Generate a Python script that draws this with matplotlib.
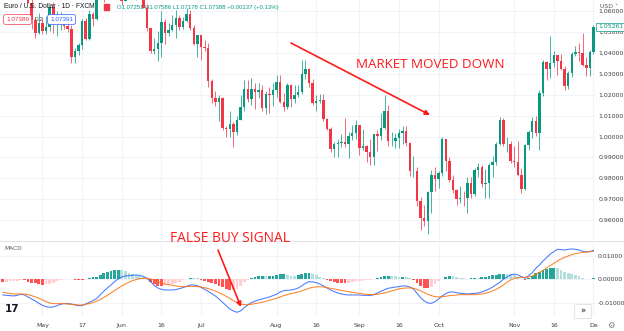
import numpy as np
import matplotlib
matplotlib.use("Agg")
import matplotlib.pyplot as plt
from matplotlib.patches import Rectangle, FancyBboxPatch

# EUR/USD diario (FXCM), del 15 abr al 1 dic 2022. La barra 0 es el 2 de mayo.
first_bar = -11

opens = [
    1.0826, 1.0808, 1.0780, 1.0787, 1.0852, 1.0835, 1.0796, 1.0715, 1.0639, 1.0557,
    1.0497, 1.0545, 1.0504, 1.0522, 1.0620, 1.0542, 1.0550, 1.0561, 1.0530, 1.0513,
    1.0380, 1.0411, 1.0436, 1.0553, 1.0465, 1.0585, 1.0562, 1.0690, 1.0733, 1.0677,
    1.0725, 1.0733, 1.0780, 1.0734, 1.0647, 1.0750, 1.0719, 1.0700, 1.0706, 1.0716,
    1.0615, 1.0518, 1.0408, 1.0417, 1.0446, 1.0546, 1.0495, 1.0511, 1.0534, 1.0567,
    1.0522, 1.0554, 1.0584, 1.0518, 1.0442, 1.0484, 1.0426, 1.0425, 1.0265, 1.0182,
    1.0163, 1.0185, 1.0040, 1.0036, 1.0061, 1.0020, 1.0080, 1.0143, 1.0229, 1.0180,
    1.0229, 1.0212, 1.0222, 1.0134, 1.0203, 1.0197, 1.0224, 1.0262, 1.0164, 1.0140,
    1.0247, 1.0181, 1.0198, 1.0212, 1.0298, 1.0321, 1.0257, 1.0160, 1.0169, 1.0177,
    1.0085, 1.0037, 0.9942, 0.9966, 0.9969, 0.9973, 0.9964, 1.0003, 1.0017, 1.0054,
    0.9943, 0.9953, 0.9924, 0.9901, 1.0010, 1.0001, 1.0043, 1.0122, 0.9977, 0.9980,
    0.9995, 1.0016, 1.0027, 0.9969, 0.9836, 0.9837, 0.9690, 0.9608, 0.9594, 0.9736,
    0.9815, 0.9799, 0.9826, 0.9986, 0.9883, 0.9794, 0.9743, 0.9702, 0.9706, 0.9705,
    0.9779, 0.9723, 0.9838, 0.9853, 0.9774, 0.9779, 0.9862, 0.9878, 0.9966, 1.0079,
    0.9963, 0.9966, 0.9882, 0.9876, 0.9818, 0.9749, 0.9960, 1.0020, 1.0073, 1.0015,
    1.0210, 1.0355, 1.0325, 1.0353, 1.0391, 1.0363, 1.0324, 1.0243, 1.0305, 1.0395,
    1.0405, 1.0398, 1.0344, 1.0330, 1.0405,
]
highs = [
    1.0845, 1.0815, 1.0817, 1.0866, 1.0936, 1.0849, 1.0806, 1.0737, 1.0658, 1.0573,
    1.0593, 1.0566, 1.0578, 1.0624, 1.0642, 1.0599, 1.0594, 1.0580, 1.0578, 1.0534,
    1.0425, 1.0445, 1.0564, 1.0566, 1.0604, 1.0597, 1.0698, 1.0748, 1.0737, 1.0735,
    1.0765, 1.0786, 1.0788, 1.0764, 1.0752, 1.0764, 1.0752, 1.0722, 1.0748, 1.0774,
    1.0633, 1.0520, 1.0469, 1.0505, 1.0601, 1.0560, 1.0545, 1.0583, 1.0606, 1.0581,
    1.0570, 1.0615, 1.0606, 1.0534, 1.0488, 1.0487, 1.0463, 1.0448, 1.0276, 1.0216,
    1.0200, 1.0188, 1.0049, 1.0122, 1.0068, 1.0097, 1.0200, 1.0269, 1.0272, 1.0279,
    1.0257, 1.0258, 1.0245, 1.0216, 1.0235, 1.0254, 1.0294, 1.0293, 1.0209, 1.0254,
    1.0253, 1.0248, 1.0248, 1.0368, 1.0368, 1.0329, 1.0274, 1.0200, 1.0203, 1.0202,
    1.0089, 1.0047, 0.9972, 0.9990, 1.0014, 1.0090, 1.0022, 1.0055, 1.0079, 1.0056,
    1.0034, 0.9960, 0.9989, 1.0012, 1.0030, 1.0113, 1.0198, 1.0153, 1.0020, 1.0017,
    1.0036, 1.0050, 1.0051, 0.9976, 0.9908, 0.9852, 0.9709, 0.9670, 0.9740, 0.9838,
    0.9854, 0.9836, 0.9999, 0.9990, 0.9902, 0.9814, 0.9751, 0.9762, 0.9737, 0.9807,
    0.9808, 0.9848, 0.9873, 0.9863, 0.9846, 0.9872, 0.9906, 0.9976, 1.0093, 1.0089,
    0.9999, 0.9977, 0.9954, 0.9977, 0.9847, 0.9964, 1.0033, 1.0094, 1.0096, 1.0222,
    1.0365, 1.0363, 1.0480, 1.0408, 1.0392, 1.0397, 1.0335, 1.0315, 1.0402, 1.0432,
    1.0449, 1.0497, 1.0382, 1.0414, 1.0534,
]
lows = [
    1.0798, 1.0760, 1.0757, 1.0785, 1.0825, 1.0771, 1.0697, 1.0637, 1.0516, 1.0470,
    1.0491, 1.0491, 1.0492, 1.0505, 1.0493, 1.0483, 1.0509, 1.0514, 1.0500, 1.0350,
    1.0354, 1.0389, 1.0420, 1.0460, 1.0460, 1.0531, 1.0558, 1.0660, 1.0642, 1.0660,
    1.0700, 1.0730, 1.0681, 1.0627, 1.0646, 1.0703, 1.0683, 1.0653, 1.0675, 1.0613,
    1.0506, 1.0398, 1.0397, 1.0359, 1.0382, 1.0444, 1.0482, 1.0506, 1.0469, 1.0510,
    1.0512, 1.0548, 1.0508, 1.0437, 1.0382, 1.0366, 1.0410, 1.0235, 1.0161, 1.0144,
    1.0072, 1.0031, 0.9998, 0.9999, 0.9952, 1.0007, 1.0078, 1.0123, 1.0165, 1.0153,
    1.0130, 1.0182, 1.0120, 1.0109, 1.0113, 1.0146, 1.0189, 1.0160, 1.0123, 1.0130,
    1.0141, 1.0160, 1.0188, 1.0202, 1.0275, 1.0236, 1.0151, 1.0123, 1.0160, 1.0075,
    1.0033, 0.9926, 0.9900, 0.9903, 0.9948, 0.9948, 0.9899, 0.9981, 0.9990, 0.9910,
    0.9934, 0.9877, 0.9864, 0.9865, 0.9930, 0.9985, 1.0037, 0.9956, 0.9955, 0.9945,
    0.9945, 0.9966, 0.9954, 0.9812, 0.9807, 0.9667, 0.9553, 0.9571, 0.9535, 0.9635,
    0.9737, 0.9752, 0.9810, 0.9835, 0.9782, 0.9729, 0.9670, 0.9683, 0.9668, 0.9632,
    0.9706, 0.9717, 0.9807, 0.9759, 0.9705, 0.9704, 0.9808, 0.9863, 0.9960, 0.9953,
    0.9928, 0.9872, 0.9852, 0.9812, 0.9730, 0.9746, 0.9936, 0.9993, 1.0003, 0.9935,
    1.0196, 1.0271, 1.0279, 1.0333, 1.0296, 1.0316, 1.0223, 1.0226, 1.0287, 1.0385,
    1.0363, 1.0338, 1.0290, 1.0290, 1.0395,
]
closes = [
    1.0808, 1.0780, 1.0787, 1.0852, 1.0835, 1.0796, 1.0715, 1.0639, 1.0557, 1.0497,
    1.0545, 1.0504, 1.0522, 1.0620, 1.0542, 1.0550, 1.0561, 1.0530, 1.0513, 1.0380,
    1.0411, 1.0436, 1.0553, 1.0465, 1.0585, 1.0562, 1.0690, 1.0733, 1.0677, 1.0725,
    1.0733, 1.0780, 1.0734, 1.0647, 1.0750, 1.0719, 1.0700, 1.0706, 1.0716, 1.0615,
    1.0518, 1.0408, 1.0417, 1.0446, 1.0546, 1.0495, 1.0511, 1.0534, 1.0567, 1.0522,
    1.0554, 1.0584, 1.0518, 1.0442, 1.0484, 1.0426, 1.0425, 1.0265, 1.0182, 1.0163,
    1.0185, 1.0040, 1.0036, 1.0061, 1.0020, 1.0080, 1.0143, 1.0229, 1.0180, 1.0229,
    1.0212, 1.0222, 1.0134, 1.0203, 1.0197, 1.0224, 1.0262, 1.0164, 1.0140, 1.0247,
    1.0181, 1.0198, 1.0212, 1.0298, 1.0321, 1.0257, 1.0160, 1.0169, 1.0177, 1.0085,
    1.0037, 0.9942, 0.9966, 0.9969, 0.9973, 0.9964, 1.0003, 1.0017, 1.0054, 0.9943,
    0.9953, 0.9924, 0.9901, 1.0010, 1.0001, 1.0043, 1.0122, 0.9977, 0.9980, 0.9995,
    1.0016, 1.0027, 0.9969, 0.9836, 0.9837, 0.9690, 0.9608, 0.9594, 0.9736, 0.9815,
    0.9799, 0.9826, 0.9986, 0.9883, 0.9794, 0.9743, 0.9702, 0.9706, 0.9705, 0.9779,
    0.9723, 0.9838, 0.9853, 0.9774, 0.9779, 0.9862, 0.9878, 0.9966, 1.0079, 0.9963,
    0.9966, 0.9882, 0.9876, 0.9818, 0.9749, 0.9960, 1.0020, 1.0073, 1.0015, 1.0210,
    1.0355, 1.0325, 1.0353, 1.0391, 1.0363, 1.0324, 1.0243, 1.0305, 1.0395, 1.0405,
    1.0398, 1.0344, 1.0330, 1.0405, 1.0526,
]

# MACD (12, 26, 9), en unidades de 0.0001
macd_line = [
    -66.4, -67.8, -69.2, -70.6, -67.8, -63.5, -66.4, -74.8, -83.3, -91.8,
    -101.7, -110.1, -115.8, -118.6, -117.2, -111.5, -105.9, -103.1, -103.1, -104.5,
    -108.7, -111.5, -111.5, -104.5, -97.4, -90.4, -81.9, -66.4, -50.8, -36.7,
    -24.0, -9.9, 1.4, 9.9, 14.1, 15.5, 16.9, 18.4, 16.9, 12.7,
    4.2, -9.9, -25.4, -36.7, -42.4, -45.2, -45.2, -45.2, -43.8, -39.5,
    -35.3, -29.7, -24.0, -24.0, -26.8, -33.9, -42.4, -50.8, -60.7, -70.6,
    -83.3, -97.4, -111.5, -125.7, -134.1, -139.8, -134.1, -120.0, -108.7, -98.8,
    -93.2, -87.5, -83.3, -79.1, -74.8, -69.2, -63.5, -53.7, -48.0, -46.6,
    -45.2, -42.4, -36.7, -28.2, -16.9, -9.9, -11.3, -14.1, -19.8, -28.2,
    -36.7, -45.2, -52.2, -57.9, -62.1, -65.0, -66.4, -66.4, -66.4, -66.4,
    -67.8, -67.8, -69.2, -65.0, -57.9, -50.8, -43.8, -38.1, -35.3, -32.5,
    -31.1, -28.2, -28.2, -32.5, -40.9, -59.3, -77.7, -91.8, -100.3, -101.7,
    -94.6, -83.3, -70.6, -60.7, -53.7, -53.7, -56.5, -59.3, -60.7, -62.1,
    -60.7, -59.3, -57.9, -53.7, -48.0, -40.9, -32.5, -22.6, -12.7, 0.0,
    9.9, 18.4, 22.6, 18.4, 11.3, 4.2, 15.5, 28.2, 46.6, 60.7,
    77.7, 91.8, 107.3, 117.2, 127.1, 125.7, 124.3, 127.1, 128.5, 127.1,
    124.3, 118.6, 115.8, 117.2, 122.8,
]
signal_line = [
    -55.1, -57.9, -60.7, -62.1, -62.1, -62.1, -62.1, -65.0, -69.2, -74.8,
    -80.5, -87.5, -94.6, -100.3, -103.1, -103.1, -103.1, -103.1, -104.5, -105.9,
    -107.3, -108.7, -108.7, -105.9, -103.1, -98.8, -93.2, -86.1, -77.7, -67.8,
    -57.9, -48.0, -38.1, -28.2, -19.8, -12.7, -5.6, -1.4, 2.8, 4.2,
    4.2, 1.4, -4.2, -9.9, -15.5, -19.8, -22.6, -25.4, -28.2, -29.7,
    -31.1, -31.1, -29.7, -29.7, -31.1, -32.5, -35.3, -39.5, -43.8, -49.4,
    -56.5, -63.5, -72.0, -80.5, -90.4, -98.8, -104.5, -107.3, -107.3, -105.9,
    -103.1, -100.3, -97.4, -93.2, -89.0, -84.7, -80.5, -74.8, -69.2, -65.0,
    -60.7, -57.9, -53.7, -49.4, -43.8, -38.1, -33.9, -32.5, -31.1, -32.5,
    -35.3, -38.1, -40.9, -43.8, -46.6, -49.4, -52.2, -55.1, -57.9, -59.3,
    -62.1, -63.5, -65.0, -65.0, -63.5, -60.7, -57.9, -53.7, -49.4, -45.2,
    -40.9, -38.1, -36.7, -36.7, -38.1, -42.4, -49.4, -56.5, -63.5, -69.2,
    -73.4, -74.8, -73.4, -72.0, -69.2, -67.8, -66.4, -65.0, -65.0, -65.0,
    -65.0, -65.0, -63.5, -62.1, -59.3, -55.1, -49.4, -42.4, -33.9, -24.0,
    -12.7, -2.8, 4.2, 7.1, 8.5, 8.5, 9.9, 14.1, 21.2, 29.7,
    38.1, 48.0, 57.9, 67.8, 77.7, 86.1, 93.2, 98.8, 104.5, 108.7,
    111.5, 114.4, 115.8, 117.2, 118.6,
]

tick_bars = [0, 11, 22, 33, 44, 65, 76, 88, 99, 110, 131, 142, 153]
tick_labels = ["May", "17", "Jun", "16", "Jul", "Aug", "16", "Sep", "16", "Oct", "Nov", "16", "De"]
price_ticks = [0.96, 0.97, 0.98, 0.99, 1.00, 1.01, 1.02, 1.03, 1.04, 1.05, 1.06]
macd_ticks = [-0.01, 0.0, 0.01]

UP = "#089981"
DOWN = "#f23645"
GRID = "#f0f3fa"
TXT = "#131722"
AXTXT = "#3c3f47"
W, H = 624, 331


def px(x, y):
    # pixel de la imagen (origen arriba a la izquierda) -> fraccion de figura
    return x / W, 1 - y / H


o = np.array(opens)
h = np.array(highs)
l = np.array(lows)
c = np.array(closes)
idx = np.arange(first_bar, first_bar + len(c))
macd = np.array(macd_line) * 1e-4
signal = np.array(signal_line) * 1e-4
hist = macd - signal

fig = plt.figure(figsize=(W / 100, H / 100), dpi=100)
ax = fig.add_axes([0, 91 / H, 596 / W, 240 / H])
axm = fig.add_axes([0, 15 / H, 596 / W, 75 / H])

xlim = (-11.8, 153.7)

# --- velas ---
up = c >= o
colors = np.where(up, UP, DOWN)
ax.vlines(idx, l, h, colors=colors, lw=0.7, alpha=0.75, zorder=2)
body_lo = np.minimum(o, c)
body_h = np.maximum(np.abs(c - o), 0.00012)
ax.bar(idx, body_h, bottom=body_lo, width=0.68, color=colors, lw=0, zorder=3)

ax.set_xlim(*xlim)
ax.set_ylim(0.95048, 1.06531)
ax.set_yticks(price_ticks)
ax.set_yticklabels([f"{p:.5f}" for p in price_ticks])
ax.yaxis.tick_right()
ax.set_xticks(tick_bars)
ax.tick_params(axis="x", labelbottom=False, length=0)
ax.tick_params(axis="y", length=0, pad=2, labelsize=4.5, labelcolor=AXTXT)
ax.grid(True, color=GRID, lw=0.8, zorder=0)
for s in ax.spines.values():
    s.set_visible(False)

# --- MACD ---
hcol = []
for k in range(len(hist)):
    prev = hist[k - 1] if k > 0 else hist[k]
    if hist[k] >= 0:
        hcol.append("#26a69a" if hist[k] > prev else "#b2dfdb")
    else:
        hcol.append("#ffcdd2" if hist[k] > prev else "#ff5252")
axm.bar(idx, hist, width=0.78, color=hcol, lw=0, zorder=2)
axm.plot(idx, macd, color="#2962ff", lw=0.75, alpha=0.85, zorder=3)
axm.plot(idx, signal, color="#ff6d00", lw=0.75, alpha=0.85, zorder=3)

axm.set_xlim(*xlim)
axm.set_ylim(-0.01555, 0.01623)
axm.set_yticks(macd_ticks)
axm.set_yticklabels(["-0.01000", "0.00000", "0.01000"])
axm.yaxis.tick_right()
axm.set_xticks(tick_bars)
axm.set_xticklabels(tick_labels)
axm.tick_params(axis="x", length=0, pad=5, labelsize=4.5, labelcolor=AXTXT)
axm.tick_params(axis="y", length=0, pad=1, labelsize=4.5, labelcolor=AXTXT)
axm.grid(True, color=GRID, lw=0.8, zorder=0)
for s in axm.spines.values():
    s.set_visible(False)

# separador entre paneles
fig.add_artist(plt.Line2D([0, 1], [px(0, 240.5)[1]] * 2, color="#e0e3eb", lw=0.8))

# --- cabecera ---
HDR = "Liberation Sans"
fig.text(*px(4, 7), "Euro / U.S. Dollar \u00b7 1D \u00b7 FXCM", fontsize=4.8, color=TXT,
         va="center", family=HDR)
fig.add_artist(Rectangle(px(104, 10), 5 / W, 6 / H, color="#f23645", transform=fig.transFigure))
fig.text(*px(117, 7), "O1.07251 H1.07586 L1.07178 C1.07388 +0.00137 (+0.13%)",
         fontsize=4.3, color=UP, va="center", family=HDR)
fig.text(*px(6, 19.5), "1.07389", fontsize=4.6, color="#f23645", va="center", family=HDR,
         bbox=dict(boxstyle="round,pad=0.4", fc="white", ec="#f23645", lw=0.5))
fig.text(*px(35, 19.5), "0.2", fontsize=4.6, color="#555", va="center", family=HDR)
fig.text(*px(50, 19.5), "1.07391", fontsize=4.6, color="#2962ff", va="center", family=HDR,
         bbox=dict(boxstyle="round,pad=0.4", fc="white", ec="#2962ff", lw=0.5))

# eje de precios: divisa y ultimo precio
fig.text(*px(600, 6), "USD \u02c5", fontsize=4.4, color="#555", va="center")
fig.text(*px(598, 27), "1.05261", fontsize=4.5, color=UP, va="center",
         bbox=dict(boxstyle="square,pad=0.3", fc="white", ec=UP, lw=0.5))

fig.text(*px(4, 248), "MACD", fontsize=4.2, color="#555", va="center")
fig.text(*px(5, 309), "17", fontsize=7.5, color=TXT, va="center", fontweight="bold")

# boton de desplazamiento y engranaje
fig.add_artist(FancyBboxPatch(px(576, 318), 14 / W, 13 / H, boxstyle="round,pad=0.002",
                              fc="white", ec="#d6d9e0", lw=0.5, transform=fig.transFigure))
fig.text(*px(583, 311), "\u00bb", fontsize=6, color=TXT, ha="center", va="center")
fig.text(*px(611, 325), "\u2699", fontsize=6, color="#777", ha="center", va="center")

# --- anotaciones ---
RED = "#ff1a1a"
fig.text(*px(356, 64), "MARKET MOVED DOWN", fontsize=9.6, color=RED, va="center",
         family="Open Sans")
fig.text(*px(170, 238), "FALSE BUY SIGNAL", fontsize=9.9, color=RED, va="center",
         family="Open Sans")
arrow = dict(arrowstyle="-|>", color=RED, lw=1.2, mutation_scale=7, shrinkA=0, shrinkB=0)
ax.annotate("", xy=(430, H - 115), xytext=(291, H - 43),
            xycoords="figure pixels", textcoords="figure pixels", arrowprops=arrow)
axm.annotate("", xy=(241, H - 307), xytext=(218, H - 250),
             xycoords="figure pixels", textcoords="figure pixels", arrowprops=arrow)

fig.savefig("out.png", dpi=100, facecolor="white")
